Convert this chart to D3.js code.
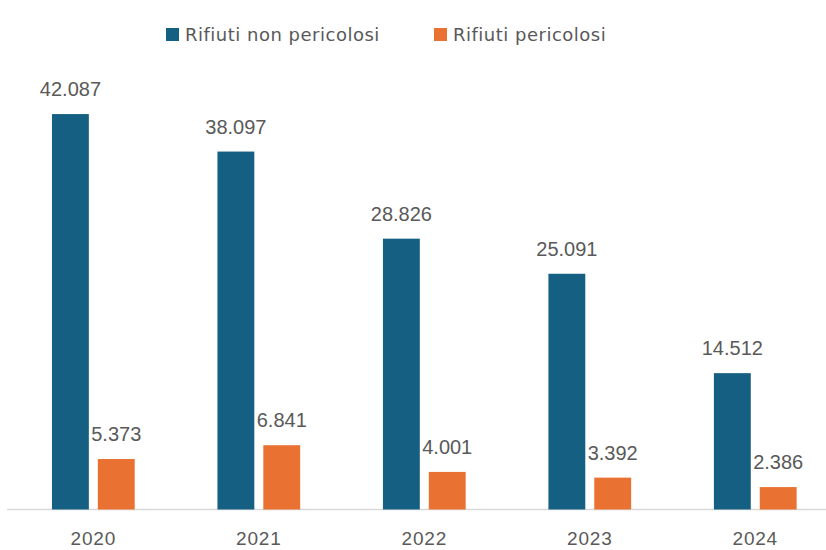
<!DOCTYPE html>
<html>
<head>
<meta charset="utf-8">
<script src="https://cdn.jsdelivr.net/npm/d3@7"></script>
<style>
    body { margin: 0; background: #ffffff; }
</style>
</head>
<body>
<div id="grafico"></div>
<script>
const anni = ["2020", "2021", "2022", "2023", "2024"];
const serie = ["Rifiuti non pericolosi", "Rifiuti pericolosi"];
const nonPericolosi = [42087, 38097, 28826, 25091, 14512];
const pericolosi = [5373, 6841, 4001, 3392, 2386];

const larghezza = 826, altezza = 550;
const baseY = 509.5;
const grigio = "#595959";
const colori = ["#156082", "#E97132"];
const font = "'Liberation Sans', Arial, sans-serif";

const formato = d3.formatLocale({ decimal: ",", thousands: ".", grouping: [3] }).format(",d");

const dati = anni.map((anno, i) => ({ anno, valori: [nonPericolosi[i], pericolosi[i]] }));

const $svg = d3.select("#grafico")
    .append("svg")
    .attr("width", larghezza)
    .attr("height", altezza);

const x = d3.scaleBand()
    .domain(anni)
    .range([10.6, 838])
    .paddingInner(0.5)
    .paddingOuter(0.25);

const xSerie = d3.scaleBand()
    .domain([0, 1])
    .range([0, x.bandwidth()])
    .paddingInner(0.196);

const y = d3.scaleLinear()
    .domain([0, 45000])
    .range([baseY, 86.7]);

// asse orizzontale
$svg.append("line")
    .attr("x1", 7)
    .attr("x2", larghezza)
    .attr("y1", baseY)
    .attr("y2", baseY)
    .attr("stroke", "#d9d9d9")
    .attr("stroke-width", 1.5);

$svg.append("g")
    .selectAll("text")
    .data(anni)
    .join("text")
    .attr("x", d => x(d) + x.bandwidth() / 2)
    .attr("y", 545)
    .attr("text-anchor", "middle")
    .attr("fill", grigio)
    .attr("font-size", 19)
    .attr("font-family", font)
    .attr("letter-spacing", 0.8)
    .text(d => d);

const gruppi = $svg.append("g")
    .selectAll("g")
    .data(dati)
    .join("g")
    .attr("transform", d => `translate(${x(d.anno)},0)`);

const etichetta = (sel, s) => sel.append("text")
    .attr("x", xSerie(s) + xSerie.bandwidth() / 2)
    .attr("y", d => y(d.valori[s]) - 18)
    .attr("text-anchor", "middle")
    .attr("fill", grigio)
    .attr("font-size", 20)
    .attr("font-family", font)
    .text(d => formato(d.valori[s]));

// le etichette arancioni stanno sotto le barre blu
etichetta(gruppi, 1);

[0, 1].forEach(s => {
    gruppi.append("rect")
        .attr("x", xSerie(s))
        .attr("width", xSerie.bandwidth())
        .attr("y", d => y(d.valori[s]))
        .attr("height", d => baseY - y(d.valori[s]))
        .attr("fill", colori[s]);
});

etichetta(gruppi, 0);

// legenda
const legenda = [
    { x: 166, testo: serie[0], colore: colori[0] },
    { x: 434, testo: serie[1], colore: colori[1] }
];
const voci = $svg.append("g")
    .selectAll("g")
    .data(legenda)
    .join("g")
    .attr("transform", d => `translate(${d.x},28)`);

voci.append("rect")
    .attr("width", 13)
    .attr("height", 13)
    .attr("fill", d => d.colore);

voci.append("text")
    .attr("x", 19)
    .attr("y", 13)
    .attr("fill", grigio)
    .attr("font-size", 18)
    .attr("font-family", "'DejaVu Sans', sans-serif")
    .attr("letter-spacing", 0.5)
    .text(d => d.testo);
</script>
</body>
</html>
